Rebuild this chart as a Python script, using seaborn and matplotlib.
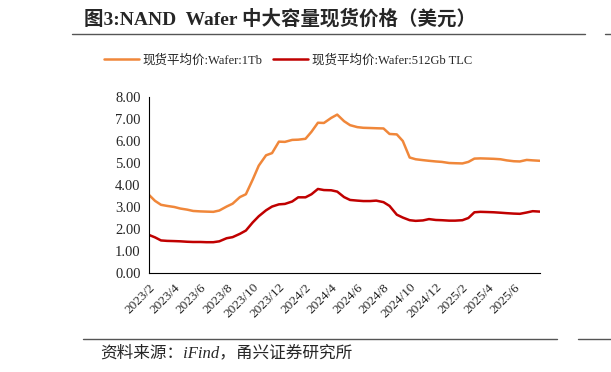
import pandas as pd
import numpy as np
import matplotlib
matplotlib.use("Agg")
import matplotlib.pyplot as plt
import seaborn as sns

# data: half-month points
dates = pd.date_range("2023-02-01", periods=61, freq="SMS")
wafer_1tb = [3.55, 3.28, 3.10, 3.05, 3.00, 2.93, 2.88, 2.82, 2.80, 2.79,
             2.78, 2.84, 3.02, 3.15, 3.45, 3.58, 4.25, 4.88, 5.35, 5.45,
             5.97, 5.96, 6.05, 6.06, 6.10, 6.42, 6.83, 6.82, 7.05, 7.20,
             6.90, 6.72, 6.63, 6.60, 6.59, 6.58, 6.57, 6.32, 6.30, 6.00,
             5.25, 5.17, 5.13, 5.10, 5.07, 5.05, 5.00, 4.99, 4.98, 5.05,
             5.20, 5.21, 5.20, 5.19, 5.17, 5.12, 5.08, 5.07, 5.14, 5.12,
             5.10]
wafer_512 = [1.73, 1.62, 1.48, 1.46, 1.45, 1.44, 1.42, 1.41, 1.41, 1.40,
             1.40, 1.44, 1.58, 1.63, 1.78, 1.93, 2.30, 2.58, 2.85, 3.02,
             3.12, 3.14, 3.25, 3.44, 3.44, 3.58, 3.82, 3.77, 3.76, 3.70,
             3.45, 3.32, 3.29, 3.27, 3.27, 3.29, 3.22, 3.05, 2.65, 2.52,
             2.40, 2.37, 2.39, 2.45, 2.41, 2.40, 2.38, 2.38, 2.40, 2.50,
             2.76, 2.78, 2.77, 2.76, 2.74, 2.72, 2.70, 2.69, 2.75, 2.81,
             2.79]
label_1tb = "现货平均价:Wafer:1Tb"
label_512 = "现货平均价:Wafer:512Gb TLC"
tick_dates = pd.date_range("2023-02-01", "2025-06-01", freq="2MS")
tick_labels = [f"{d.year}/{d.month}" for d in tick_dates]

sns.set_style("white")
plt.rcParams['font.family'] = ['Liberation Serif', 'Noto Sans CJK SC']
plt.rcParams['axes.unicode_minus'] = False

fig = plt.figure(figsize=(6.11, 3.72), dpi=100)
ax = fig.add_axes([149/611, 1-273/372, (540-149)/611, (273-97)/372])

df = pd.DataFrame({"date": dates, "a": wafer_1tb, "b": wafer_512})
sns.lineplot(data=df, x="date", y="a", ax=ax, color="#F0873A", lw=1.8, label=label_1tb)
sns.lineplot(data=df, x="date", y="b", ax=ax, color="#C00000", lw=1.8, label=label_512)

ax.set_xlim(pd.Timestamp("2023-02-01"), pd.Timestamp("2025-08-01"))
ax.set_ylim(0, 8)
ax.set_yticks(np.arange(0, 9, 1))
ax.set_yticklabels([f"{v:.2f}" for v in range(9)], fontsize=10.5)
ax.set_xticks(tick_dates)
ax.set_xticklabels(tick_labels, rotation=45, ha="right", rotation_mode="anchor", fontsize=9.5)
ax.set_xlabel("")
ax.set_ylabel("")
for s in ["top", "right"]:
    ax.spines[s].set_visible(False)
for s in ["left", "bottom"]:
    ax.spines[s].set_color("black")
    ax.spines[s].set_linewidth(0.8)
ax.tick_params(axis="both", direction="out", length=4, width=0.8, color="black", pad=2)

ax.get_legend().remove()
h, l = ax.get_legend_handles_labels()
fig.legend(h, l, loc="center", bbox_to_anchor=(288/611, 1-60/372), ncol=2, frameon=False,
           fontsize=9, handlelength=2.8, columnspacing=0.8, handletextpad=0.3)

# title + rules
fig.text(84/611, 1-19/372, "图3:NAND  Wafer 中大容量现货价格（美元）", fontsize=14,
         fontweight="bold", va="center", ha="left")
fig.add_artist(plt.Line2D([72/611, 585/611], [1-34/372, 1-34/372], color="#555555", lw=1))
fig.add_artist(plt.Line2D([605/611, 1], [1-34/372, 1-34/372], color="#555555", lw=1))
fig.add_artist(plt.Line2D([83/611, 557/611], [1-339/372, 1-339/372], color="#555555", lw=1))
fig.add_artist(plt.Line2D([578/611, 1], [1-339/372, 1-339/372], color="#555555", lw=1))
fig.text(100/611, 1-353/372, "资料来源：iFind，甬兴证券研究所", fontsize=12,
         style="italic", va="center", ha="left")

fig.savefig("out.png", dpi=100)
